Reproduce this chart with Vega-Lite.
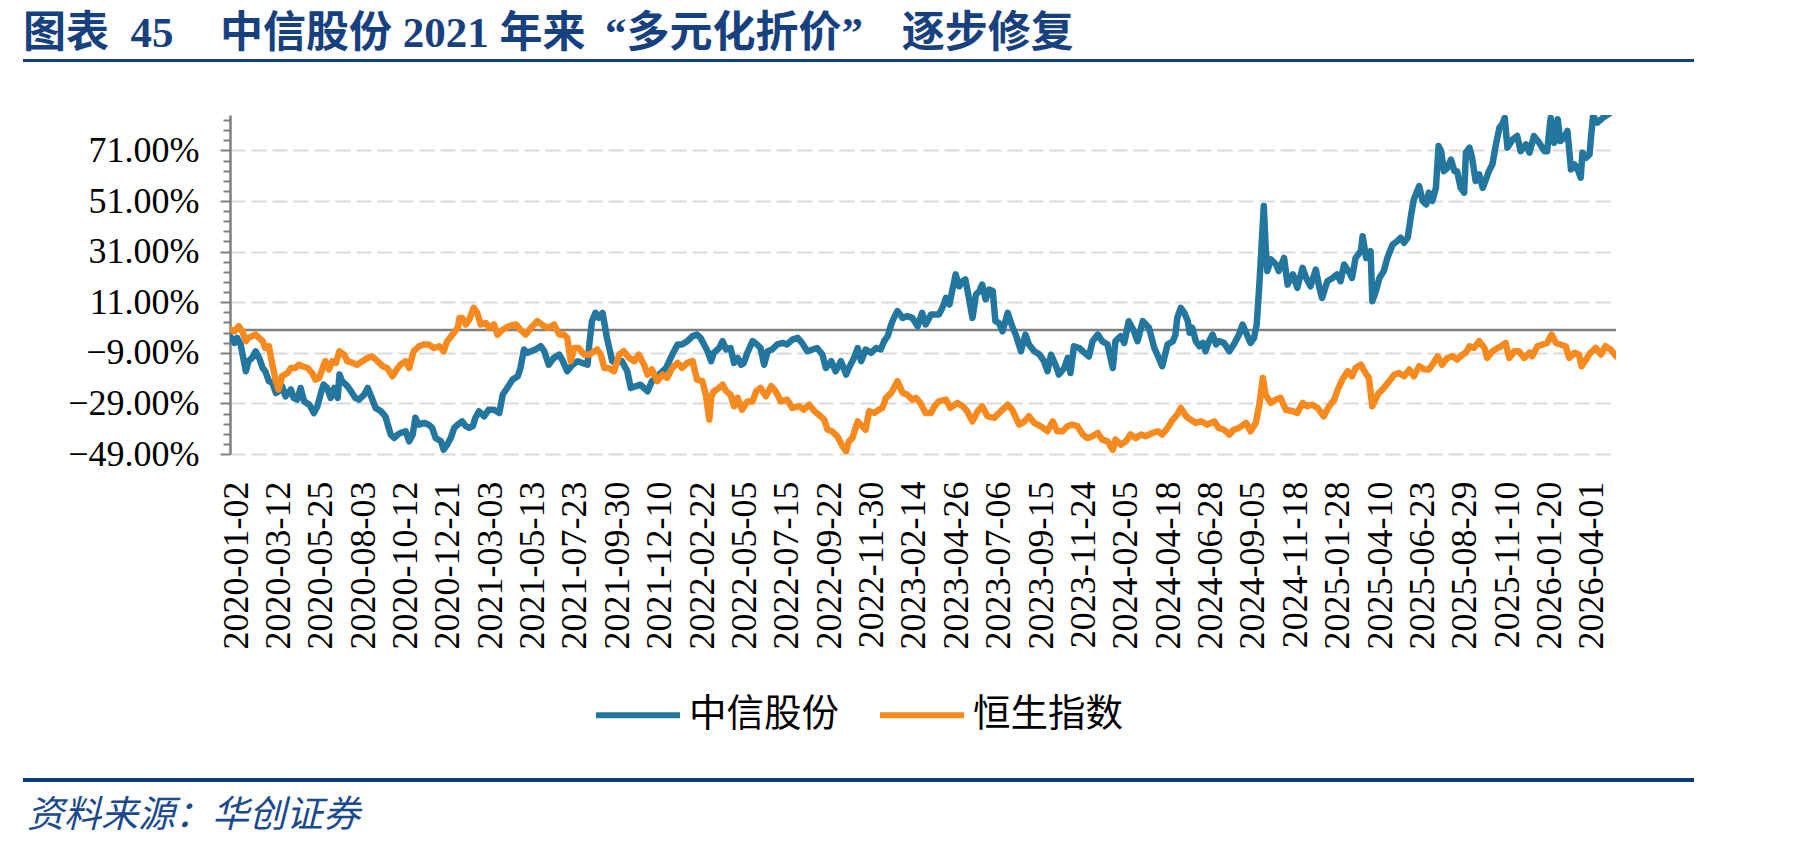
{
 "$schema": "https://vega.github.io/schema/vega-lite/v6.json",
 "background": "white",
 "padding": {"left": 23, "top": 13, "right": 10, "bottom": 5},
 "config": {"view": {"stroke": null}, "font": "Liberation Serif"},
 "spacing": 53,
 "vconcat": [
  {
   "width": 1671, "height": 3,
   "view": {"fill": "#123e7c", "stroke": null},
   "title": {"text": "图表\u200245\u3000\u200a中信股份 2021 年来 \u2009“多元化折价”\u2002\u2009\u2009逐步修复", "anchor": "start", "frame": "group", "orient": "top", "baseline": "alphabetic", "offset": -31, "font": "Liberation Serif, Noto Sans CJK SC", "fontSize": 43, "fontWeight": "bold", "color": "#17407e"},
   "data": {"values": []},
   "mark": "point"
  },
  {
   "spacing": 129,
   "vconcat": [
    {
     "spacing": 0,
     "hconcat": [
      {"width": 44, "height": 339, "view": {"fill": "white", "stroke": null}, "data": {"values": []}, "mark": "point"},
      {
       "width": 1386, "height": 339,
       "layer": [
        {"data": {"values": [{}]}, "mark": {"type": "rule", "color": "#7f7f7f", "strokeWidth": 2.5}, "encoding": {"y": {"datum": 0, "type": "quantitative"}}},
        {
         "data": {"values": [
{"day":0,"pct":-2.4},{"day":5,"pct":-5.1},{"day":8,"pct":-3.1},{"day":12,"pct":-5.7},{"day":18,"pct":-16.3},{"day":21,"pct":-12.3},{"day":25,"pct":-11.0},{"day":29,"pct":-8.4},{"day":33,"pct":-11.0},{"day":37,"pct":-15.0},{"day":40,"pct":-16.3},{"day":44,"pct":-20.2},{"day":48,"pct":-20.9},{"day":52,"pct":-24.9},{"day":55,"pct":-24.2},{"day":59,"pct":-22.2},{"day":63,"pct":-26.2},{"day":69,"pct":-23.5},{"day":72,"pct":-26.8},{"day":76,"pct":-27.5},{"day":80,"pct":-22.9},{"day":84,"pct":-28.2},{"day":90,"pct":-29.5},{"day":95,"pct":-32.8},{"day":99,"pct":-30.1},{"day":103,"pct":-24.9},{"day":106,"pct":-21.6},{"day":110,"pct":-22.9},{"day":114,"pct":-26.8},{"day":118,"pct":-22.9},{"day":122,"pct":-26.8},{"day":124,"pct":-17.6},{"day":127,"pct":-20.2},{"day":133,"pct":-22.2},{"day":137,"pct":-24.2},{"day":142,"pct":-26.8},{"day":146,"pct":-27.5},{"day":152,"pct":-25.5},{"day":156,"pct":-22.9},{"day":159,"pct":-25.5},{"day":165,"pct":-30.8},{"day":171,"pct":-32.1},{"day":176,"pct":-34.1},{"day":182,"pct":-41.3},{"day":186,"pct":-42.7},{"day":190,"pct":-41.3},{"day":193,"pct":-40.7},{"day":199,"pct":-40.0},{"day":203,"pct":-44.0},{"day":207,"pct":-41.3},{"day":210,"pct":-34.7},{"day":214,"pct":-37.4},{"day":220,"pct":-36.7},{"day":225,"pct":-37.4},{"day":229,"pct":-38.7},{"day":233,"pct":-42.7},{"day":239,"pct":-44.0},{"day":242,"pct":-47.3},{"day":246,"pct":-45.3},{"day":250,"pct":-42.7},{"day":254,"pct":-38.7},{"day":258,"pct":-37.4},{"day":263,"pct":-36.1},{"day":267,"pct":-38.0},{"day":271,"pct":-38.7},{"day":275,"pct":-38.0},{"day":278,"pct":-34.7},{"day":282,"pct":-32.1},{"day":288,"pct":-34.1},{"day":293,"pct":-31.5},{"day":299,"pct":-31.5},{"day":305,"pct":-32.8},{"day":309,"pct":-25.5},{"day":314,"pct":-22.9},{"day":320,"pct":-19.6},{"day":326,"pct":-18.3},{"day":329,"pct":-15.0},{"day":333,"pct":-7.7},{"day":337,"pct":-9.0},{"day":341,"pct":-8.4},{"day":346,"pct":-7.7},{"day":352,"pct":-6.4},{"day":356,"pct":-8.4},{"day":361,"pct":-13.7},{"day":367,"pct":-11.0},{"day":373,"pct":-9.7},{"day":377,"pct":-12.3},{"day":382,"pct":-16.3},{"day":388,"pct":-13.7},{"day":394,"pct":-12.3},{"day":399,"pct":-13.0},{"day":405,"pct":-13.7},{"day":407,"pct":-5.7},{"day":410,"pct":3.5},{"day":414,"pct":6.8},{"day":418,"pct":4.8},{"day":422,"pct":6.8},{"day":427,"pct":-3.1},{"day":433,"pct":-12.3},{"day":437,"pct":-13.0},{"day":444,"pct":-12.3},{"day":450,"pct":-16.3},{"day":454,"pct":-22.9},{"day":460,"pct":-22.2},{"day":465,"pct":-21.6},{"day":473,"pct":-24.2},{"day":478,"pct":-20.2},{"day":486,"pct":-17.6},{"day":494,"pct":-15.0},{"day":501,"pct":-9.7},{"day":507,"pct":-5.7},{"day":512,"pct":-5.7},{"day":518,"pct":-4.4},{"day":524,"pct":-2.4},{"day":529,"pct":-1.8},{"day":533,"pct":-3.1},{"day":537,"pct":-5.7},{"day":541,"pct":-8.4},{"day":545,"pct":-12.3},{"day":548,"pct":-9.0},{"day":554,"pct":-7.1},{"day":558,"pct":-4.4},{"day":562,"pct":-7.7},{"day":567,"pct":-7.1},{"day":571,"pct":-13.0},{"day":575,"pct":-11.0},{"day":579,"pct":-13.7},{"day":582,"pct":-13.0},{"day":586,"pct":-9.0},{"day":592,"pct":-4.4},{"day":597,"pct":-5.7},{"day":601,"pct":-7.1},{"day":605,"pct":-13.7},{"day":609,"pct":-8.4},{"day":614,"pct":-7.7},{"day":620,"pct":-5.7},{"day":626,"pct":-5.1},{"day":631,"pct":-5.7},{"day":637,"pct":-3.8},{"day":643,"pct":-3.1},{"day":648,"pct":-5.1},{"day":654,"pct":-8.4},{"day":660,"pct":-7.7},{"day":665,"pct":-7.1},{"day":671,"pct":-9.7},{"day":675,"pct":-15.0},{"day":681,"pct":-12.3},{"day":686,"pct":-16.3},{"day":692,"pct":-12.3},{"day":698,"pct":-17.6},{"day":701,"pct":-15.0},{"day":707,"pct":-11.0},{"day":711,"pct":-7.1},{"day":715,"pct":-12.3},{"day":720,"pct":-7.7},{"day":726,"pct":-9.0},{"day":732,"pct":-7.1},{"day":737,"pct":-7.7},{"day":741,"pct":-4.4},{"day":745,"pct":-2.4},{"day":749,"pct":2.2},{"day":752,"pct":4.8},{"day":756,"pct":7.5},{"day":762,"pct":4.8},{"day":767,"pct":5.5},{"day":773,"pct":4.8},{"day":779,"pct":1.5},{"day":784,"pct":6.8},{"day":788,"pct":2.2},{"day":794,"pct":6.1},{"day":798,"pct":6.1},{"day":803,"pct":6.1},{"day":807,"pct":8.8},{"day":811,"pct":12.7},{"day":815,"pct":10.1},{"day":818,"pct":15.4},{"day":822,"pct":22.0},{"day":826,"pct":17.3},{"day":830,"pct":19.3},{"day":833,"pct":20.0},{"day":837,"pct":12.7},{"day":841,"pct":4.8},{"day":845,"pct":14.0},{"day":849,"pct":15.4},{"day":852,"pct":18.0},{"day":856,"pct":12.1},{"day":860,"pct":16.0},{"day":864,"pct":15.4},{"day":867,"pct":3.5},{"day":871,"pct":2.8},{"day":875,"pct":-0.5},{"day":881,"pct":6.8},{"day":886,"pct":1.5},{"day":890,"pct":-1.8},{"day":896,"pct":-8.4},{"day":901,"pct":-1.8},{"day":905,"pct":-5.7},{"day":911,"pct":-8.4},{"day":917,"pct":-9.7},{"day":922,"pct":-12.3},{"day":926,"pct":-16.3},{"day":930,"pct":-9.7},{"day":935,"pct":-13.7},{"day":939,"pct":-17.6},{"day":945,"pct":-15.0},{"day":949,"pct":-11.0},{"day":952,"pct":-17.0},{"day":956,"pct":-6.4},{"day":962,"pct":-7.1},{"day":968,"pct":-9.0},{"day":973,"pct":-10.4},{"day":977,"pct":-4.4},{"day":983,"pct":-1.8},{"day":988,"pct":-4.4},{"day":994,"pct":-5.7},{"day":1000,"pct":-15.0},{"day":1003,"pct":-4.4},{"day":1009,"pct":-2.4},{"day":1013,"pct":-5.1},{"day":1018,"pct":3.5},{"day":1024,"pct":-0.5},{"day":1028,"pct":-4.4},{"day":1034,"pct":3.5},{"day":1041,"pct":0.9},{"day":1047,"pct":-7.1},{"day":1052,"pct":-11.0},{"day":1056,"pct":-14.3},{"day":1062,"pct":-5.7},{"day":1068,"pct":-4.4},{"day":1071,"pct":-1.8},{"day":1073,"pct":4.8},{"day":1077,"pct":8.8},{"day":1081,"pct":6.8},{"day":1085,"pct":3.5},{"day":1087,"pct":-1.1},{"day":1090,"pct":0.9},{"day":1094,"pct":-4.4},{"day":1098,"pct":-6.4},{"day":1102,"pct":-5.1},{"day":1105,"pct":-8.4},{"day":1109,"pct":-4.4},{"day":1113,"pct":-1.8},{"day":1117,"pct":-5.7},{"day":1120,"pct":-4.4},{"day":1126,"pct":-5.1},{"day":1132,"pct":-8.4},{"day":1137,"pct":-5.7},{"day":1143,"pct":-1.8},{"day":1147,"pct":2.2},{"day":1151,"pct":-1.1},{"day":1156,"pct":-5.1},{"day":1160,"pct":-3.1},{"day":1163,"pct":2.2},{"day":1166,"pct":18.0},{"day":1168,"pct":29.9},{"day":1171,"pct":49.0},{"day":1173,"pct":33.8},{"day":1175,"pct":23.3},{"day":1179,"pct":27.9},{"day":1185,"pct":25.9},{"day":1188,"pct":23.3},{"day":1194,"pct":28.5},{"day":1198,"pct":18.0},{"day":1204,"pct":22.0},{"day":1209,"pct":16.7},{"day":1215,"pct":24.6},{"day":1219,"pct":20.6},{"day":1224,"pct":17.3},{"day":1230,"pct":23.9},{"day":1234,"pct":16.7},{"day":1237,"pct":12.7},{"day":1243,"pct":19.3},{"day":1249,"pct":20.6},{"day":1254,"pct":22.0},{"day":1258,"pct":19.3},{"day":1262,"pct":25.9},{"day":1268,"pct":22.6},{"day":1271,"pct":20.6},{"day":1275,"pct":28.5},{"day":1281,"pct":31.2},{"day":1283,"pct":37.1},{"day":1287,"pct":28.5},{"day":1292,"pct":31.2},{"day":1294,"pct":11.4},{"day":1298,"pct":15.4},{"day":1302,"pct":20.6},{"day":1307,"pct":23.3},{"day":1311,"pct":28.5},{"day":1317,"pct":33.8},{"day":1322,"pct":35.1},{"day":1326,"pct":36.5},{"day":1330,"pct":34.5},{"day":1334,"pct":36.5},{"day":1338,"pct":45.7},{"day":1341,"pct":51.6},{"day":1347,"pct":56.9},{"day":1351,"pct":51.0},{"day":1355,"pct":49.6},{"day":1358,"pct":54.3},{"day":1362,"pct":51.0},{"day":1366,"pct":56.2},{"day":1369,"pct":72.7},{"day":1372,"pct":70.7},{"day":1375,"pct":62.8},{"day":1379,"pct":64.1},{"day":1383,"pct":67.4},{"day":1387,"pct":62.8},{"day":1390,"pct":62.8},{"day":1394,"pct":56.2},{"day":1398,"pct":54.3},{"day":1400,"pct":70.1},{"day":1404,"pct":72.1},{"day":1407,"pct":68.1},{"day":1411,"pct":58.9},{"day":1415,"pct":61.5},{"day":1419,"pct":56.2},{"day":1422,"pct":58.9},{"day":1426,"pct":62.8},{"day":1430,"pct":65.5},{"day":1434,"pct":73.4},{"day":1438,"pct":80.0},{"day":1441,"pct":81.3},{"day":1444,"pct":83.9},{"day":1447,"pct":72.1},{"day":1453,"pct":75.4},{"day":1458,"pct":76.7},{"day":1462,"pct":70.7},{"day":1468,"pct":73.4},{"day":1472,"pct":70.1},{"day":1477,"pct":76.7},{"day":1483,"pct":74.0},{"day":1489,"pct":70.7},{"day":1492,"pct":70.7},{"day":1496,"pct":83.9},{"day":1500,"pct":74.0},{"day":1504,"pct":83.3},{"day":1507,"pct":74.7},{"day":1511,"pct":76.0},{"day":1515,"pct":78.7},{"day":1519,"pct":63.5},{"day":1523,"pct":65.5},{"day":1526,"pct":64.1},{"day":1530,"pct":60.2},{"day":1532,"pct":70.1},{"day":1536,"pct":68.1},{"day":1540,"pct":69.4},{"day":1542,"pct":77.3},{"day":1544,"pct":84.6},{"day":1549,"pct":82.0},{"day":1555,"pct":83.9},{"day":1561,"pct":85.2},{"day":1566,"pct":86.5},{"day":1570,"pct":87.0}
         ]},
         "mark": {"type": "line", "strokeWidth": 6.5, "clip": true, "strokeJoin": "round", "strokeCap": "round"},
         "encoding": {
          "x": {"field": "day", "type": "quantitative",
                "scale": {"domain": [0, 1570], "nice": false, "zero": false},
                "axis": {"title": null, "orient": "bottom", "tickCount": 100, "values": [0,48,96,144,192,240,288,336,384,432,480,528,576,624,672,720,768,816,864,912,960,1008,1056,1104,1152,1200,1248,1296,1344,1392,1440,1488,1536],
                         "labelExpr": "['2020-01-02','2020-03-12','2020-05-25','2020-08-03','2020-10-12','2020-12-21','2021-03-03','2021-05-13','2021-07-23','2021-09-30','2021-12-10','2022-02-22','2022-05-05','2022-07-15','2022-09-22','2022-11-30','2023-02-14','2023-04-26','2023-07-06','2023-09-15','2023-11-24','2024-02-05','2024-04-18','2024-06-28','2024-09-05','2024-11-18','2025-01-28','2025-04-10','2025-06-23','2025-08-29','2025-11-10','2026-01-20','2026-04-01'][round(datum.value / 48)]",
                         "labelAngle": 270, "labelFont": "Liberation Serif", "labelFontSize": 36, "labelColor": "#000000", "labelPadding": 27, "labelOffset": 6, "labelOverlap": false, "labelFlush": false, "labelBound": false,
                         "ticks": false, "tickSize": 0, "domain": false, "grid": false}},
          "y": {"field": "pct", "type": "quantitative",
                "scale": {"domain": [-49, 85], "nice": false, "zero": false},
                "axis": {"title": null, "tickCount": 100, "values": [-49,-45,-41,-37,-33,-29,-25,-21,-17,-13,-9,-5,-1,3,7,11,15,19,23,27,31,35,39,43,47,51,55,59,63,67,71,75,79,83],
                         "labelExpr": "(datum.value + 49) % 20 === 0 ? format(datum.value, '.2f') + '%' : ''",
                         "labelFont": "Liberation Serif", "labelColor": "#000000", "labelPadding": 21, "labelOverlap": false, "labelFlush": false, "labelBound": false,
                         "labelFontSize": {"condition": {"test": "(datum.value + 49) % 20 === 0", "value": 36}, "value": 1},
                         "grid": true, "gridColor": "#d9d9d9", "gridDash": [15, 6], "gridWidth": 2,
                         "gridOpacity": {"condition": {"test": "(datum.value + 49) % 20 === 0", "value": 1}, "value": 0},
                         "ticks": true, "tickColor": "#7f7f7f", "tickWidth": 2,
                         "tickSize": {"condition": {"test": "(datum.value + 49) % 20 === 0", "value": 10}, "value": 7},
                         "domain": true, "domainColor": "#7f7f7f", "domainWidth": 2.5}},
          "color": {"datum": "中信股份",
                    "scale": {"domain": ["中信股份", "恒生指数"], "range": ["#23779f", "#f68a1e"]},
                    "legend": {"orient": "none", "legendX": 570, "legendY": 611, "direction": "horizontal", "title": null,
                               "symbolType": "stroke", "symbolSize": 7056, "symbolStrokeWidth": 6,
                               "labelFont": "Noto Sans CJK SC", "labelFontSize": 37.5, "labelColor": "#000000", "labelOffset": 6,
                               "columnPadding": 29, "padding": 0, "labelLimit": 0}}
         }
        },
        {
         "data": {"values": [
{"day":0,"pct":0.2},{"day":5,"pct":-0.5},{"day":10,"pct":1.5},{"day":14,"pct":-0.5},{"day":18,"pct":-4.4},{"day":21,"pct":-3.1},{"day":25,"pct":-2.4},{"day":29,"pct":-1.8},{"day":33,"pct":-3.1},{"day":37,"pct":-4.4},{"day":40,"pct":-7.1},{"day":44,"pct":-6.4},{"day":48,"pct":-13.7},{"day":52,"pct":-20.2},{"day":55,"pct":-23.5},{"day":59,"pct":-18.3},{"day":65,"pct":-17.0},{"day":69,"pct":-15.0},{"day":74,"pct":-15.0},{"day":78,"pct":-13.7},{"day":82,"pct":-14.3},{"day":88,"pct":-15.0},{"day":93,"pct":-17.0},{"day":97,"pct":-19.6},{"day":101,"pct":-18.9},{"day":105,"pct":-15.0},{"day":108,"pct":-12.3},{"day":112,"pct":-15.6},{"day":116,"pct":-12.3},{"day":120,"pct":-13.0},{"day":124,"pct":-8.4},{"day":129,"pct":-9.7},{"day":133,"pct":-12.3},{"day":139,"pct":-13.0},{"day":144,"pct":-13.7},{"day":150,"pct":-12.3},{"day":156,"pct":-11.0},{"day":161,"pct":-10.4},{"day":167,"pct":-12.3},{"day":173,"pct":-14.3},{"day":178,"pct":-15.0},{"day":184,"pct":-18.3},{"day":190,"pct":-15.0},{"day":193,"pct":-13.7},{"day":199,"pct":-12.3},{"day":203,"pct":-15.0},{"day":208,"pct":-8.4},{"day":214,"pct":-6.4},{"day":220,"pct":-5.7},{"day":225,"pct":-5.7},{"day":231,"pct":-7.1},{"day":237,"pct":-6.4},{"day":242,"pct":-8.4},{"day":246,"pct":-4.4},{"day":252,"pct":-1.8},{"day":258,"pct":0.9},{"day":260,"pct":4.8},{"day":263,"pct":4.8},{"day":267,"pct":2.2},{"day":271,"pct":4.1},{"day":276,"pct":8.8},{"day":280,"pct":6.8},{"day":284,"pct":2.2},{"day":290,"pct":2.8},{"day":293,"pct":0.9},{"day":299,"pct":2.2},{"day":303,"pct":-1.8},{"day":309,"pct":0.2},{"day":316,"pct":1.5},{"day":324,"pct":2.2},{"day":329,"pct":0.2},{"day":335,"pct":-1.8},{"day":341,"pct":0.9},{"day":348,"pct":3.5},{"day":356,"pct":1.5},{"day":361,"pct":0.9},{"day":367,"pct":2.2},{"day":373,"pct":-1.8},{"day":378,"pct":-1.8},{"day":382,"pct":-3.1},{"day":386,"pct":-12.3},{"day":390,"pct":-7.1},{"day":395,"pct":-7.1},{"day":401,"pct":-9.7},{"day":407,"pct":-9.7},{"day":410,"pct":-9.0},{"day":416,"pct":-7.7},{"day":420,"pct":-9.7},{"day":424,"pct":-15.0},{"day":429,"pct":-15.0},{"day":435,"pct":-16.3},{"day":441,"pct":-9.7},{"day":446,"pct":-8.4},{"day":452,"pct":-11.0},{"day":458,"pct":-12.3},{"day":463,"pct":-9.7},{"day":469,"pct":-13.7},{"day":473,"pct":-17.6},{"day":478,"pct":-15.6},{"day":484,"pct":-20.2},{"day":490,"pct":-17.6},{"day":495,"pct":-18.9},{"day":501,"pct":-15.0},{"day":507,"pct":-13.0},{"day":512,"pct":-15.0},{"day":518,"pct":-13.0},{"day":524,"pct":-12.3},{"day":529,"pct":-19.6},{"day":535,"pct":-20.2},{"day":539,"pct":-25.5},{"day":543,"pct":-35.4},{"day":545,"pct":-26.8},{"day":548,"pct":-24.2},{"day":554,"pct":-22.9},{"day":558,"pct":-21.6},{"day":562,"pct":-24.2},{"day":567,"pct":-25.5},{"day":571,"pct":-30.1},{"day":575,"pct":-26.8},{"day":580,"pct":-31.5},{"day":586,"pct":-28.2},{"day":592,"pct":-28.2},{"day":596,"pct":-24.2},{"day":601,"pct":-22.9},{"day":607,"pct":-26.2},{"day":613,"pct":-22.2},{"day":618,"pct":-24.2},{"day":624,"pct":-28.2},{"day":631,"pct":-27.5},{"day":637,"pct":-30.8},{"day":645,"pct":-30.1},{"day":650,"pct":-31.5},{"day":656,"pct":-29.5},{"day":662,"pct":-32.1},{"day":667,"pct":-33.4},{"day":673,"pct":-35.4},{"day":677,"pct":-39.4},{"day":682,"pct":-40.0},{"day":688,"pct":-42.0},{"day":694,"pct":-46.0},{"day":698,"pct":-47.9},{"day":701,"pct":-44.0},{"day":705,"pct":-42.7},{"day":711,"pct":-36.1},{"day":716,"pct":-38.0},{"day":720,"pct":-39.4},{"day":724,"pct":-32.1},{"day":730,"pct":-32.8},{"day":735,"pct":-31.5},{"day":739,"pct":-30.8},{"day":743,"pct":-26.8},{"day":749,"pct":-24.9},{"day":756,"pct":-20.2},{"day":762,"pct":-24.9},{"day":767,"pct":-25.5},{"day":773,"pct":-27.5},{"day":777,"pct":-26.8},{"day":782,"pct":-28.8},{"day":788,"pct":-32.8},{"day":794,"pct":-32.8},{"day":798,"pct":-30.1},{"day":803,"pct":-28.2},{"day":811,"pct":-27.5},{"day":816,"pct":-30.8},{"day":824,"pct":-28.8},{"day":830,"pct":-30.1},{"day":835,"pct":-32.1},{"day":841,"pct":-36.1},{"day":847,"pct":-32.1},{"day":852,"pct":-30.1},{"day":858,"pct":-34.1},{"day":866,"pct":-34.7},{"day":871,"pct":-32.8},{"day":881,"pct":-29.5},{"day":886,"pct":-31.5},{"day":894,"pct":-37.4},{"day":900,"pct":-36.1},{"day":905,"pct":-34.1},{"day":911,"pct":-36.7},{"day":918,"pct":-38.0},{"day":926,"pct":-40.0},{"day":932,"pct":-36.1},{"day":937,"pct":-40.0},{"day":943,"pct":-40.0},{"day":949,"pct":-38.0},{"day":954,"pct":-37.4},{"day":960,"pct":-38.0},{"day":966,"pct":-41.3},{"day":971,"pct":-42.7},{"day":977,"pct":-42.0},{"day":983,"pct":-40.7},{"day":988,"pct":-43.3},{"day":994,"pct":-44.0},{"day":1000,"pct":-47.3},{"day":1003,"pct":-43.3},{"day":1009,"pct":-45.3},{"day":1015,"pct":-44.0},{"day":1020,"pct":-41.3},{"day":1026,"pct":-42.7},{"day":1032,"pct":-41.3},{"day":1037,"pct":-42.0},{"day":1045,"pct":-40.7},{"day":1051,"pct":-40.0},{"day":1056,"pct":-41.3},{"day":1062,"pct":-38.7},{"day":1068,"pct":-35.4},{"day":1073,"pct":-33.4},{"day":1077,"pct":-30.8},{"day":1083,"pct":-34.1},{"day":1088,"pct":-35.4},{"day":1094,"pct":-36.7},{"day":1100,"pct":-36.1},{"day":1107,"pct":-37.4},{"day":1115,"pct":-36.1},{"day":1120,"pct":-38.7},{"day":1126,"pct":-39.4},{"day":1132,"pct":-41.3},{"day":1137,"pct":-39.4},{"day":1143,"pct":-38.7},{"day":1151,"pct":-36.7},{"day":1156,"pct":-40.0},{"day":1162,"pct":-36.7},{"day":1166,"pct":-29.5},{"day":1170,"pct":-18.9},{"day":1173,"pct":-25.5},{"day":1179,"pct":-28.8},{"day":1185,"pct":-27.5},{"day":1190,"pct":-26.8},{"day":1196,"pct":-31.5},{"day":1204,"pct":-32.1},{"day":1209,"pct":-32.8},{"day":1215,"pct":-28.8},{"day":1220,"pct":-30.1},{"day":1226,"pct":-29.5},{"day":1232,"pct":-30.8},{"day":1239,"pct":-34.1},{"day":1245,"pct":-30.1},{"day":1251,"pct":-27.5},{"day":1254,"pct":-24.2},{"day":1260,"pct":-19.6},{"day":1266,"pct":-16.3},{"day":1271,"pct":-18.3},{"day":1275,"pct":-15.0},{"day":1281,"pct":-13.7},{"day":1285,"pct":-16.3},{"day":1290,"pct":-18.9},{"day":1294,"pct":-30.1},{"day":1300,"pct":-25.5},{"day":1307,"pct":-22.9},{"day":1313,"pct":-20.2},{"day":1319,"pct":-17.6},{"day":1324,"pct":-17.0},{"day":1330,"pct":-18.3},{"day":1336,"pct":-15.6},{"day":1341,"pct":-18.3},{"day":1347,"pct":-14.3},{"day":1353,"pct":-15.6},{"day":1358,"pct":-15.6},{"day":1362,"pct":-13.7},{"day":1368,"pct":-10.4},{"day":1373,"pct":-13.7},{"day":1379,"pct":-11.0},{"day":1385,"pct":-10.4},{"day":1390,"pct":-11.7},{"day":1396,"pct":-9.7},{"day":1400,"pct":-9.0},{"day":1404,"pct":-6.4},{"day":1409,"pct":-7.1},{"day":1415,"pct":-4.4},{"day":1421,"pct":-7.1},{"day":1424,"pct":-11.0},{"day":1430,"pct":-8.4},{"day":1436,"pct":-7.1},{"day":1440,"pct":-6.4},{"day":1445,"pct":-5.1},{"day":1449,"pct":-11.0},{"day":1455,"pct":-8.4},{"day":1460,"pct":-8.4},{"day":1466,"pct":-11.0},{"day":1472,"pct":-9.0},{"day":1475,"pct":-10.4},{"day":1481,"pct":-6.4},{"day":1487,"pct":-5.7},{"day":1492,"pct":-5.1},{"day":1497,"pct":-1.8},{"day":1502,"pct":-5.1},{"day":1507,"pct":-5.7},{"day":1513,"pct":-6.4},{"day":1517,"pct":-11.0},{"day":1523,"pct":-9.0},{"day":1528,"pct":-9.7},{"day":1531,"pct":-14.3},{"day":1536,"pct":-11.7},{"day":1541,"pct":-9.0},{"day":1547,"pct":-7.1},{"day":1553,"pct":-9.7},{"day":1558,"pct":-6.4},{"day":1564,"pct":-7.7},{"day":1570,"pct":-10.4}
         ]},
         "mark": {"type": "line", "strokeWidth": 6.5, "clip": true, "strokeJoin": "round", "strokeCap": "round"},
         "encoding": {
          "x": {"field": "day", "type": "quantitative"},
          "y": {"field": "pct", "type": "quantitative"},
          "color": {"datum": "恒生指数"}
         }
        }
       ]
      }
     ]
    },
    {
     "width": 1671, "height": 4,
     "view": {"fill": "#0d3b7a", "stroke": null},
     "title": {"text": "资料来源：华创证券", "orient": "bottom", "anchor": "start", "frame": "group", "baseline": "alphabetic", "offset": 45, "dx": 4, "font": "Noto Sans CJK SC", "fontSize": 37, "fontStyle": "italic", "fontWeight": "normal", "color": "#1b4a8c"},
     "data": {"values": []},
     "mark": "point"
    }
   ]
  }
 ]
}
